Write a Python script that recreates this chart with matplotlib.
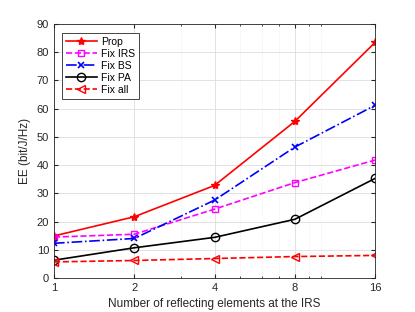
import matplotlib
matplotlib.use("Agg")
import matplotlib.pyplot as plt
from matplotlib.ticker import FixedLocator, NullFormatter

plt.rcParams['font.family'] = ['Liberation Sans', 'DejaVu Sans']

# Datos
n_elementos = [1, 2, 4, 8, 16]
ee_prop = [14.9, 21.7, 32.8, 55.5, 83.5]
ee_fix_irs = [14.5, 15.5, 24.4, 33.8, 41.8]
ee_fix_bs = [12.3, 14.0, 27.6, 46.4, 61.2]
ee_fix_pa = [6.3, 10.7, 14.4, 20.8, 35.3]
ee_fix_all = [5.7, 6.2, 6.9, 7.6, 8.0]
xticks = [1, 2, 4, 8, 16]
yticks = [0, 10, 20, 30, 40, 50, 60, 70, 80, 90]

fig = plt.figure(figsize=(4.15, 3.12), dpi=100)
ax = fig.add_axes([0.130, 0.109, 0.774, 0.814])

ax.plot(n_elementos, ee_prop, '-', color='red', marker='*', markersize=6,
        markeredgewidth=1.0, lw=1.2, label='Prop')
ax.plot(n_elementos, ee_fix_irs, '--', color='magenta', marker='s', markersize=5,
        markerfacecolor='none', lw=1.2, label='Fix IRS')
ax.plot(n_elementos, ee_fix_bs, '-.', color='blue', marker='x', markersize=5,
        markeredgewidth=1.2, lw=1.2, label='Fix BS')
ax.plot(n_elementos, ee_fix_pa, '-', color='black', marker='o', markersize=6,
        markerfacecolor='none', lw=1.2, label='Fix PA')
ax.plot(n_elementos, ee_fix_all, '--', color='red', marker='<', markersize=6,
        markerfacecolor='none', lw=1.2, label='Fix all')

ax.set_xscale('log')
ax.set_xlim(1, 16)
ax.set_ylim(0, 90)
ax.xaxis.set_major_locator(FixedLocator(xticks))
ax.set_xticklabels([str(t) for t in xticks])
ax.xaxis.set_minor_locator(FixedLocator([3, 5, 6, 7, 9, 10]))
ax.xaxis.set_minor_formatter(NullFormatter())
ax.set_yticks(yticks)

ax.grid(True, which='major', color='#dddddd', lw=0.6)
ax.grid(True, which='minor', axis='x', color='#e6e6e6', lw=0.5, ls=':')
ax.set_axisbelow(True)

ax.tick_params(which='both', direction='in', labelsize=8, colors='#262626',
               top=True, right=True, length=3)
ax.tick_params(which='minor', length=1.5)
for s in ax.spines.values():
    s.set_color('#262626')
    s.set_linewidth(0.6)

ax.set_xlabel('Number of reflecting elements at the IRS', fontsize=8.5, color='#262626')
ax.set_ylabel('EE (bit/J/Hz)', fontsize=8.5, color='#262626')

leg = ax.legend(loc='upper left', bbox_to_anchor=(0.025, 0.965), fontsize=7.5,
                fancybox=False, framealpha=1, edgecolor='#262626', handlelength=3,
                borderpad=0.35, labelspacing=0.2, handletextpad=0.4,
                borderaxespad=0)
leg.get_frame().set_linewidth(0.6)

fig.savefig('out.png', dpi=100)
